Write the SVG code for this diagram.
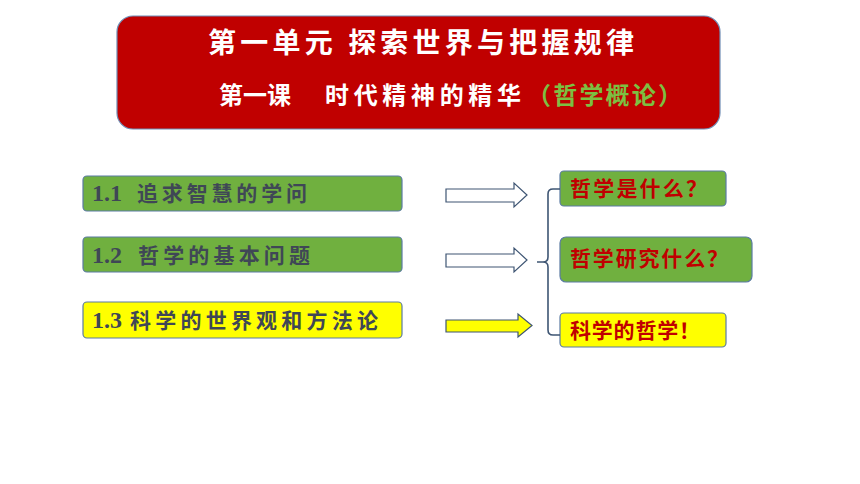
<svg xmlns="http://www.w3.org/2000/svg" width="860" height="484" viewBox="0 0 860 484">
<style>
.cjk{font-family:"Liberation Serif","Noto Sans CJK SC",serif;font-weight:bold}
.title{fill:#ffffff}
.lbox{stroke:#5b7ba3;stroke-width:1.2}
.green{fill:#70b03f}
.yellow{fill:#ffff00}
.ltxt{fill:#3f4756;font-size:21px}
.num{font-size:24px;letter-spacing:0}
.rtxt{fill:#c00000;font-size:21px}
.arrow{stroke:#3e5573;stroke-width:1.2}
</style>
<rect width="860" height="484" fill="#ffffff"/>
<g id="title">
<rect x="117" y="16" width="603" height="113" rx="16" fill="#c00000" stroke="#6f8db5" stroke-width="1.2"/>
<text class="cjk title" x="208" y="53" font-size="28" textLength="426" lengthAdjust="spacing">第一单元 探索世界与把握规律</text>
<text class="cjk" y="104" font-size="24"><tspan class="title" x="219" textLength="72" lengthAdjust="spacing">第一课</tspan><tspan class="title" x="325" textLength="196" lengthAdjust="spacing">时代精神的精华</tspan><tspan fill="#7cc042" x="527" textLength="155" lengthAdjust="spacing">（哲学概论）</tspan></text>
</g>
<g id="node-1-1">
<rect class="lbox green" x="83" y="176" width="319" height="35" rx="4"/>
<text class="cjk ltxt" y="201"><tspan class="num" x="92">1.1</tspan><tspan x="137" textLength="170" lengthAdjust="spacing">追求智慧的学问</tspan></text>
</g>
<g id="node-1-2">
<rect class="lbox green" x="83" y="237" width="319" height="35" rx="4"/>
<text class="cjk ltxt" y="263"><tspan class="num" x="92">1.2</tspan><tspan x="138" textLength="172" lengthAdjust="spacing">哲学的基本问题</tspan></text>
</g>
<g id="node-1-3">
<rect class="lbox yellow" x="83" y="302" width="319" height="36" rx="4"/>
<text class="cjk ltxt" y="328"><tspan class="num" x="92">1.3</tspan><tspan x="130" textLength="248" lengthAdjust="spacing">科学的世界观和方法论</tspan></text>
</g>
<g id="node-a">
<rect class="lbox green" x="560" y="171" width="166" height="35" rx="4"/>
<text class="cjk rtxt" x="570" y="196" textLength="137" lengthAdjust="spacing">哲学是什么？</text>
</g>
<g id="node-b">
<rect class="lbox green" x="560" y="237" width="192" height="45" rx="6"/>
<text class="cjk rtxt" x="570" y="266" textLength="158" lengthAdjust="spacing">哲学研究什么？</text>
</g>
<g id="node-c">
<rect class="lbox yellow" x="560" y="313" width="166" height="34" rx="4"/>
<text class="cjk rtxt" x="570" y="338" textLength="130" lengthAdjust="spacing">科学的哲学！</text>
</g>
<g id="connectors">
<polygon class="arrow" fill="#ffffff" points="446,189 514,189 514,183 527,195 514,207 514,202 446,202"/>
<polygon class="arrow" fill="#ffffff" points="446,254 514,254 514,248 527,260 514,272 514,267 446,267"/>
<polygon class="arrow" fill="#ffff00" points="446,320 518,320 518,314 532,325.5 518,337 518,332 446,332"/>
<path d="M560,189 L553,189 Q548,189 548,194 L548,257 Q548,262 543,262 L537,262 M543,262 Q548,262 548,267 L548,330 Q548,335 553,335 L560,335" fill="none" stroke="#3e5573" stroke-width="1.6"/>
</g>
</svg>
